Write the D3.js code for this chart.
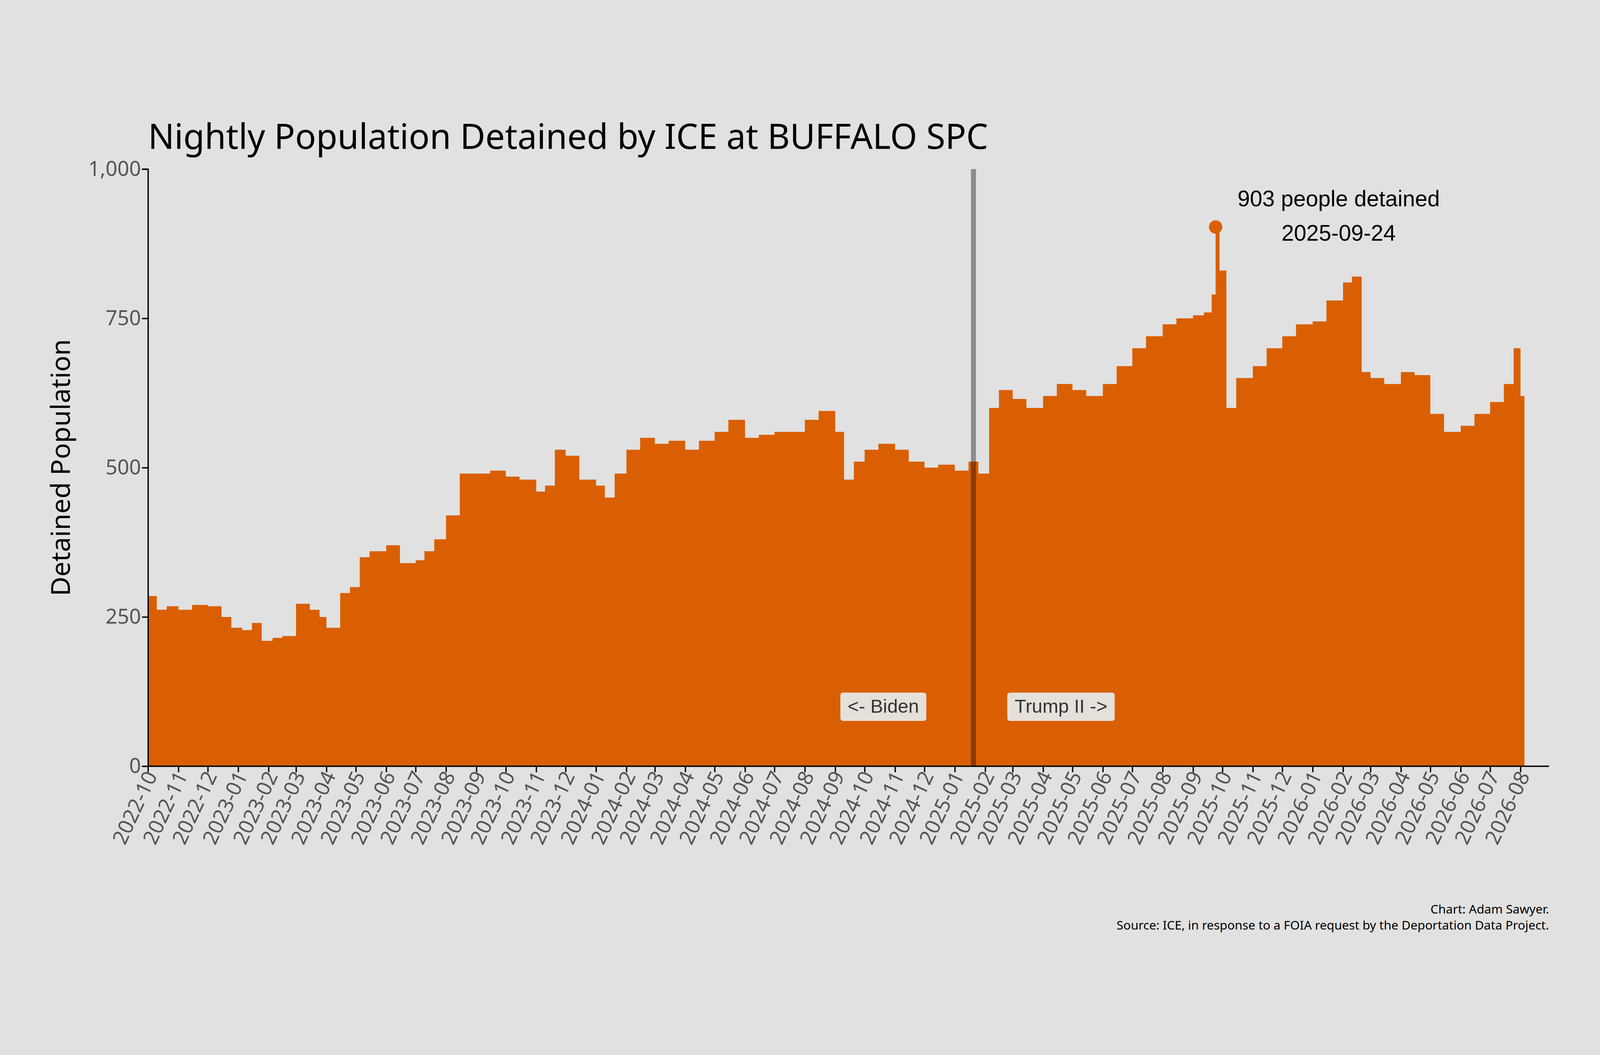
<!DOCTYPE html><html><head><meta charset="utf-8"><script src="https://cdn.jsdelivr.net/npm/d3@7/dist/d3.min.js"></script>
<style>html,body{margin:0;background:#e1e1e1;overflow:hidden}svg{display:block;width:100vw;height:100vh}</style></head><body><svg id="c" viewBox="0 0 4800 2700" preserveAspectRatio="xMidYMid meet"></svg>
<script>
const dates=["2022-10-01","2022-10-10","2022-10-20","2022-11-01","2022-11-15","2022-12-01","2022-12-15","2022-12-25","2023-01-05","2023-01-15","2023-01-25","2023-02-05","2023-02-15","2023-03-01","2023-03-15","2023-03-25","2023-04-01","2023-04-15","2023-04-25","2023-05-05","2023-05-15","2023-06-01","2023-06-15","2023-07-01","2023-07-10","2023-07-20","2023-08-01","2023-08-15","2023-09-01","2023-09-15","2023-10-01","2023-10-15","2023-11-01","2023-11-10","2023-11-20","2023-12-01","2023-12-15","2024-01-01","2024-01-10","2024-01-20","2024-02-01","2024-02-15","2024-03-01","2024-03-15","2024-04-01","2024-04-15","2024-05-01","2024-05-15","2024-06-01","2024-06-15","2024-07-01","2024-07-15","2024-08-01","2024-08-15","2024-09-01","2024-09-10","2024-09-20","2024-10-01","2024-10-15","2024-11-01","2024-11-15","2024-12-01","2024-12-15","2025-01-01","2025-01-15","2025-01-25","2025-02-05","2025-02-15","2025-03-01","2025-03-15","2025-04-01","2025-04-15","2025-05-01","2025-05-15","2025-06-01","2025-06-15","2025-07-01","2025-07-15","2025-08-01","2025-08-15","2025-09-01","2025-09-12","2025-09-20","2025-09-24","2025-09-28","2025-10-05","2025-10-15","2025-11-01","2025-11-15","2025-12-01","2025-12-15","2026-01-01","2026-01-15","2026-02-01","2026-02-10","2026-02-20","2026-03-01","2026-03-15","2026-04-01","2026-04-15","2026-05-01","2026-05-15","2026-06-01","2026-06-15","2026-07-01","2026-07-15","2026-07-25","2026-08-01"];
const values=[285,262,268,262,270,268,250,232,228,240,210,215,218,272,262,250,232,290,300,350,360,370,340,345,360,380,420,490,490,495,485,480,460,470,530,520,480,470,450,490,530,550,540,545,530,545,560,580,550,555,560,560,580,595,560,480,510,530,540,530,510,500,505,495,510,490,600,630,615,600,620,640,630,620,640,670,700,720,740,750,755,760,790,903,830,600,650,670,700,720,740,745,780,810,820,660,650,640,660,655,590,560,570,590,610,640,700,620];
const yTicks=[0,250,500,750,1000];
const m={l:444,r:4647,t:275,b:2066};
const svg=d3.select("#c");
const p=d3.timeParse("%Y-%m-%d");
const data=dates.map((d,i)=>({d:p(d),v:values[i]}));
const x=d3.scaleTime().domain([p("2022-10-01"),p("2026-08-05")]).range([m.l,m.l+(1494-145)*3.061]);
const y=d3.scaleLinear().domain([0,1000]).range([m.b,m.t]);
const full=data.concat([{d:p("2026-08-05"),v:620}]);
svg.append("path").datum(full).attr("fill","#d95f02").attr("d",d3.area().curve(d3.curveStepAfter).x(d=>x(d.d)).y0(y(0)).y1(d=>y(d.v)));
const inaug=p("2025-01-20");
svg.append("line").attr("x1",x(inaug)).attr("x2",x(inaug)).attr("y1",y(1000)).attr("y2",y(0)).attr("stroke","#000").attr("stroke-opacity",0.38).attr("stroke-width",15);
const ya=svg.append("g").attr("transform",`translate(${m.l},0)`).call(d3.axisLeft(y).tickValues(yTicks).tickFormat(d3.format(",")).tickSize(18));
const xa=svg.append("g").attr("transform",`translate(0,${m.b})`).call(d3.axisBottom(x).ticks(d3.timeMonth.every(1)).tickFormat(d3.timeFormat("%Y-%m")).tickSize(18));
xa.select(".domain").attr("d",`M${m.l},0H${m.r}`);
[ya,xa].forEach(a=>{a.selectAll("path,line").attr("stroke","#000").attr("stroke-width",4);a.selectAll("text").attr("font-family","Noto Sans").attr("font-size",62).attr("fill","#555");});
xa.selectAll("text").attr("text-anchor","end").attr("transform","translate(-10,10) rotate(-65)").attr("dy","0.35em").attr("dx","0");
svg.append("text").attr("x",m.l).attr("y",215).attr("font-family","Noto Sans").attr("font-size",104).text("Nightly Population Detained by ICE at BUFFALO SPC");
svg.append("text").attr("transform",`translate(210,${(m.t+m.b)/2}) rotate(-90)`).attr("text-anchor","middle").attr("font-family","Noto Sans").attr("font-size",80).text("Detained Population");
const pk=data.find(d=>d.v===903);
svg.append("circle").attr("cx",x(pk.d)).attr("cy",y(pk.v)).attr("r",20).attr("fill","#d95f02");
[["903 people detained",367],["2025-09-24",470]].forEach(([t,yy])=>svg.append("text").attr("x",4016).attr("y",yy+20).attr("text-anchor","middle").attr("font-family","Liberation Sans").attr("font-size",67).text(t));
[["<- Biden",2650],["Trump II ->",3183]].forEach(([t,cx])=>{
 const g=svg.append("g");const tx=g.append("text").attr("x",cx).attr("y",1906).attr("text-anchor","middle").attr("font-family","Liberation Sans").attr("font-size",57).attr("fill","#333").text(t);
 const b=tx.node().getBBox();g.insert("rect","text").attr("x",b.x-22).attr("y",1845).attr("width",b.width+44).attr("height",85).attr("rx",8).attr("fill","#e6e0da");});
[["Chart: Adam Sawyer.",2508],["Source: ICE, in response to a FOIA request by the Deportation Data Project.",2556]].forEach(([t,yy])=>svg.append("text").attr("x",m.r).attr("y",yy).attr("text-anchor","end").attr("font-family","Noto Sans").attr("font-size",37).text(t));
</script></body></html>
